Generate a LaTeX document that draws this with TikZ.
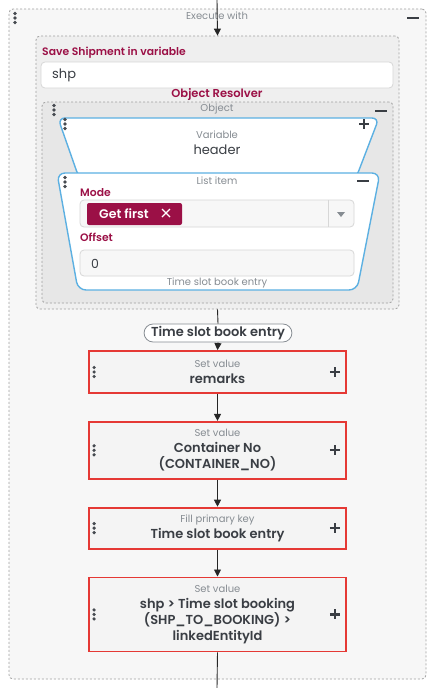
\documentclass[tikz,border=0pt]{standalone}
\usepackage{fontspec}
\setmainfont{Poppins}[BoldFont={Poppins SemiBold}]
\usetikzlibrary{arrows.meta,positioning,calc}
\definecolor{Crim}{RGB}{155,16,70}
\definecolor{Redline}{RGB}{229,57,53}
\definecolor{Skyline}{RGB}{92,176,226}
\definecolor{Greytxt}{RGB}{134,140,146}
\definecolor{Darktxt}{RGB}{58,62,68}
\definecolor{Gripcol}{RGB}{70,74,80}
\definecolor{Dashcol}{RGB}{160,160,160}
\definecolor{Outerfill}{RGB}{247,247,247}
\definecolor{Innerfill}{RGB}{239,239,239}
\definecolor{Objfill}{RGB}{231,231,231}
\definecolor{Boxfill}{RGB}{244,244,244}
\definecolor{Fieldline}{RGB}{215,215,215}
\tikzset{
    groupbox/.style={
        rectangle, rounded corners=4pt, draw=Dashcol, line width=0.8pt,
        dash pattern=on 2pt off 2pt, inner sep=0pt
    },
    setbox/.style={
        rectangle, draw=Redline, line width=1.8pt, fill=Boxfill,
        minimum width=257pt, align=center, text=Darktxt, inner sep=4pt,
        font=\bfseries\fontsize{13}{16}\selectfont
    },
    fieldbox/.style={rounded corners=4pt, draw=Fieldline, line width=0.8pt, fill=white},
    trapbox/.style={rounded corners=7pt, draw=Skyline, line width=1.4pt, fill=white},
    greylbl/.style={text=Greytxt, font=\fontsize{10}{11}\selectfont, inner sep=0pt},
    crimlbl/.style={text=Crim, font=\bfseries\fontsize{10.8}{12}\selectfont, inner sep=0pt},
    signline/.style={line width=2.2pt, Darktxt},
    flowarr/.style={-{Triangle[length=7pt, width=7pt]}, line width=0.9pt, black!85},
    flowline/.style={line width=0.9pt, black!85},
}
\newcommand\gripdots[1]{\foreach \d in {-4.5,0,4.5}{\fill[Gripcol] ($(#1)+(0,\d)$) circle (1.8);}}
\newcommand\plussign[1]{\draw[signline] ($(#1)+(-5,0)$) -- ($(#1)+(5,0)$) ($(#1)+(0,-5)$) -- ($(#1)+(0,5)$);}
\newcommand\minussign[1]{\draw[signline] ($(#1)+(-6,0)$) -- ($(#1)+(6,0)$);}
\newcommand\setlbl[1]{{\mdseries\fontsize{10}{10}\selectfont\color{Greytxt}#1}}
\begin{document}
\begin{tikzpicture}[x=1pt, y=-1pt]
    \useasboundingbox[fill=white] (0,0) rectangle (436,688);

    % outer "Execute with" container
    \node [groupbox, fill=Outerfill, minimum width=417, minimum height=670] (exec) at (217.5,344) {};
    \node [greylbl] (execlbl) at (217,16) {Execute with};
    \gripdots{15,18}
    \minussign{413,18}

    % save shipment container
    \node [groupbox, fill=Innerfill, minimum width=363, minimum height=273] (save) at (217.5,172.5) {};
    \node [crimlbl, anchor=west] (savelbl) at (42,53) {Save Shipment in variable};
    \draw [fieldbox] (41,62) rectangle (393,88);
    \node [anchor=west, text=Darktxt, font=\fontsize{13}{14}\selectfont, inner sep=0pt] (shp) at (52,75) {shp};
    \node [crimlbl, font=\bfseries\fontsize{11.5}{13}\selectfont] (resolver) at (217,95) {Object Resolver};

    % object container
    \node [groupbox, fill=Objfill, minimum width=351, minimum height=201] (obj) at (217.5,202.5) {};
    \node [greylbl] (objlbl) at (217,109) {Object};
    \gripdots{54,110}
    \minussign{381,111}

    % variable block
    \draw [trapbox] (58,118) -- (379,118) -- (356,178) -- (79,178) -- cycle;
    \node [greylbl] (varlbl) at (217,135) {Variable};
    \node [text=Darktxt, font=\fontsize{13}{14}\selectfont, inner sep=0pt] (header) at (217,150) {header};
    \gripdots{65,124}
    \plussign{364,124}

    % list item block
    \draw [trapbox, rounded corners=8pt] (57,173) -- (380,173) -- (357,290) -- (78,290) -- cycle;
    \node [greylbl] (listlbl) at (217,181) {List item};
    \gripdots{65,182}
    \minussign{363,181}
    \node [crimlbl, anchor=west] (modelbl) at (80,193) {Mode};
    \draw [fieldbox, fill=white!97!black] (80,200) rectangle (354,227);
    \draw [Fieldline, line width=0.8pt] (328,200) -- (328,227);
    \fill [Greytxt] (337,212) -- (345,212) -- (341,217) -- cycle;
    \fill [Crim, rounded corners=2pt] (87,203) rectangle (182,225);
    \node [anchor=west, text=white, font=\bfseries\fontsize{12.5}{13}\selectfont, inner sep=0pt] (getfirst) at (99,214) {Get first};
    \draw [white, line width=1.4pt] (162,209) -- (170,217) (170,209) -- (162,217);
    \node [crimlbl, anchor=west] (offsetlbl) at (80,237) {Offset};
    \draw [fieldbox, fill=white!97!black] (80,250) rectangle (354,276);
    \node [anchor=west, text=Darktxt, font=\fontsize{12.5}{14}\selectfont, inner sep=0pt] (zero) at (91,264) {0};
    \node [greylbl] (entrylbl) at (217,283) {Time slot book entry};

    % result pill
    \node [rounded corners=9pt, draw=Greytxt, line width=0.8pt, fill=white, text=Darktxt,
           font=\bfseries\fontsize{13}{14}\selectfont, minimum height=18, inner xsep=7pt, inner ysep=1pt]
        (pill) at (218,333) {Time slot book entry};

    % actions
    \node [setbox, minimum height=42] (remarks) at (217.5,372) {\setlbl{Set value}\\remarks};
    \node [setbox, minimum height=57, anchor=north] (container) at ($(remarks.south)+(0,27)$)
        {\setlbl{Set value}\\Container No\\(CONTAINER\_NO)};
    \node [setbox, minimum height=41, anchor=north] (pkey) at ($(container.south)+(0,27)$)
        {\setlbl{Fill primary key}\\Time slot book entry};
    \node [setbox, minimum height=74, anchor=north] (linked) at ($(pkey.south)+(0,27)$)
        {\setlbl{Set value}\\shp > Time slot booking\\(SHP\_TO\_BOOKING) >\\linkedEntityId};
    \foreach \b in {remarks, container, pkey, linked} {
        \gripdots{$(\b.west)+(6,0)$}
        \plussign{$(\b.east)+(-12,0)$}
    }

    % connectors
    \coordinate (top) at (217,0);
    \coordinate (bottom) at (217,688);
    \draw [flowarr] (top) -- (save.north);
    \draw [flowline] (save.south) -- (pill.north);
    \draw [flowarr] (pill.south) -- (remarks.north);
    \draw [flowarr] (remarks) -- (container);
    \draw [flowarr] (container) -- (pkey);
    \draw [flowarr] (pkey) -- (linked);
    \draw [flowline] (linked.south) -- (bottom);
\end{tikzpicture}
\end{document}
